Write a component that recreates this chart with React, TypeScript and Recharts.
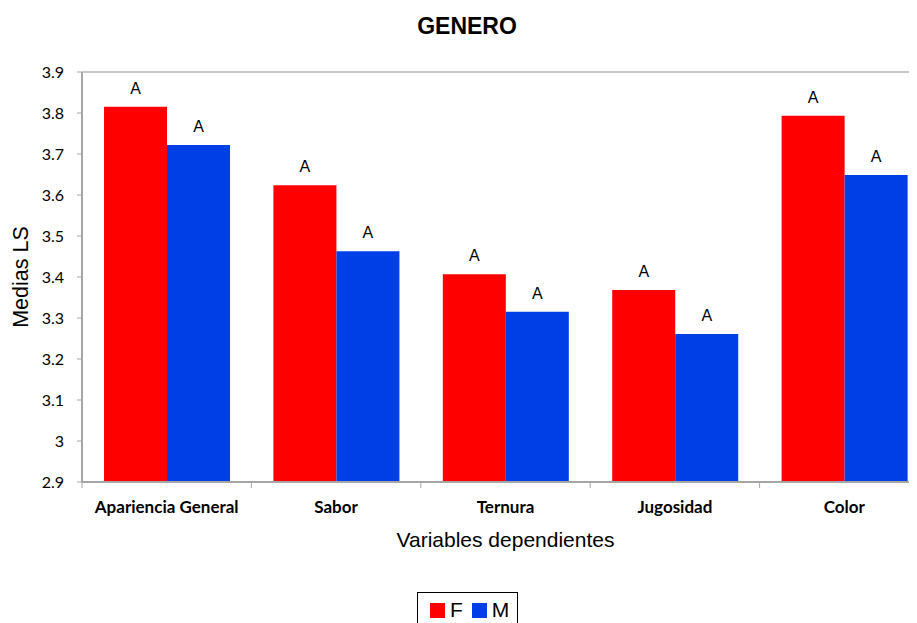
import React from "react";
import { BarChart, Bar, XAxis, YAxis, ReferenceLine, LabelList } from "recharts";

const categories = ["Apariencia General", "Sabor", "Ternura", "Jugosidad", "Color"];
const femenino = [3.815, 3.624, 3.407, 3.368, 3.793];
const masculino = [3.722, 3.463, 3.315, 3.261, 3.649];
const letrasF = ["A", "A", "A", "A", "A"];
const letrasM = ["A", "A", "A", "A", "A"];
const yTicks = [2.9, 3, 3.1, 3.2, 3.3, 3.4, 3.5, 3.6, 3.7, 3.8, 3.9];

const data = categories.map((c, i) => ({
  name: c,
  F: femenino[i],
  M: masculino[i],
  lf: letrasF[i],
  lm: letrasM[i],
}));

const RED = "#ff0000";
const BLUE = "#003ee6";
const GREY = "#a6a6a6";
const ARIAL = "Liberation Sans, Arial, sans-serif";

// category label plus tick marks on the band edges
function CategoryTick(props: any) {
  const { x, y, payload, index, visibleTicksCount } = props;
  const half = payload.offset || 0;
  const top = y - 12;
  return (
    <g>
      <line x1={x - half} x2={x - half} y1={top} y2={top + 6} stroke={GREY} />
      {index === visibleTicksCount - 1 && (
        <line x1={x + half} x2={x + half} y1={top} y2={top + 6} stroke={GREY} />
      )}
      <text
        x={x}
        y={y}
        dy={19}
        textAnchor="middle"
        fill="#000"
        fontSize={17}
        fontWeight="bold"
        fontFamily="Lato, sans-serif"
      >
        {payload.value}
      </text>
    </g>
  );
}

function LegendBox() {
  return (
    <div
      style={{
        position: "absolute",
        left: 417,
        top: 592,
        border: "1px solid #000",
        width: 101,
        height: 40,
        display: "flex",
        alignItems: "flex-start",
        paddingTop: 5,
        boxSizing: "border-box",
        fontFamily: ARIAL,
        fontSize: 21,
        color: "#000",
      }}
    >
      <span style={{ width: 15, height: 15, background: RED, marginLeft: 12, marginTop: 5 }} />
      <span style={{ marginLeft: 5, lineHeight: "24px" }}>F</span>
      <span style={{ width: 15, height: 15, background: BLUE, marginLeft: 9, marginTop: 5 }} />
      <span style={{ marginLeft: 5, lineHeight: "24px" }}>M</span>
    </div>
  );
}

export default function App() {
  return (
    <div
      style={{
        position: "relative",
        width: 917,
        height: 623,
        margin: "-8px -8px 0 -8px",
        overflow: "hidden",
        background: "#fff",
      }}
    >
      <div
        style={{
          position: "absolute",
          left: 367,
          width: 200,
          top: 13,
          textAlign: "center",
          fontFamily: ARIAL,
          fontWeight: "bold",
          fontSize: 23,
        }}
      >
        GENERO
      </div>
      <BarChart
        width={940}
        height={623}
        data={data}
        margin={{ top: 72, right: 11, bottom: 75, left: 22 }}
        barCategoryGap="13%"
        barGap={0}
      >
        <XAxis
          dataKey="name"
          height={66}
          axisLine={{ stroke: GREY, strokeWidth: 2 }}
          tickLine={false}
          tickSize={6}
          tickMargin={6}
          interval={0}
          tick={<CategoryTick />}
          label={{
            value: "Variables dependientes",
            position: "insideBottom",
            offset: 1,
            style: { fill: "#000", fontSize: 21, fontFamily: ARIAL },
          }}
        />
        <YAxis
          domain={[2.9, 3.9]}
          ticks={yTicks}
          width={60}
          allowDataOverflow
          axisLine={{ stroke: GREY, strokeWidth: 2 }}
          tickLine={{ stroke: GREY }}
          tickSize={5}
          tickMargin={13}
          tick={{ fill: "#000", fontSize: 16, fontFamily: "Lato, sans-serif" }}
          label={{
            value: "Medias LS",
            angle: -90,
            position: "insideLeft",
            offset: -2,
            style: { textAnchor: "middle", fill: "#000", fontSize: 21.5, fontFamily: ARIAL },
          }}
        />
        <ReferenceLine y={3.9} stroke="#c8c8c8" strokeWidth={2} />
        <Bar dataKey="F" fill={RED} isAnimationActive={false}>
          <LabelList
            dataKey="lf"
            position="top"
            offset={13}
            style={{ fill: "#000", fontSize: 16, fontFamily: ARIAL }}
          />
        </Bar>
        <Bar dataKey="M" fill={BLUE} isAnimationActive={false}>
          <LabelList
            dataKey="lm"
            position="top"
            offset={13}
            style={{ fill: "#000", fontSize: 16, fontFamily: ARIAL }}
          />
        </Bar>
      </BarChart>
      <LegendBox />
    </div>
  );
}
